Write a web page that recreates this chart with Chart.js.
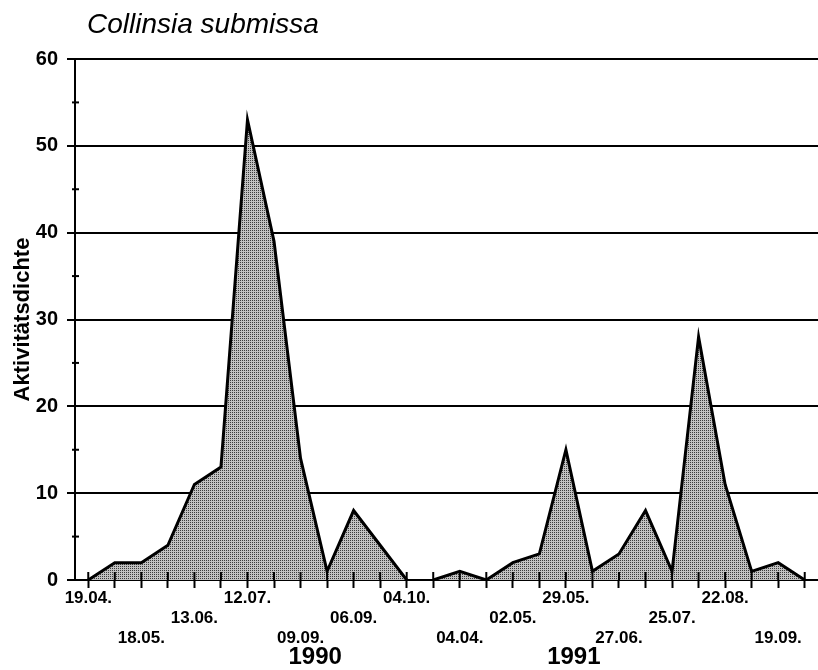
<!DOCTYPE html>
<html>
<head>
<meta charset="utf-8">
<title>Collinsia submissa</title>
<script src="https://cdn.jsdelivr.net/npm/chart.js@4/dist/chart.umd.min.js"></script>
<style>
  body { margin: 0; background: #fff; }
  canvas { display: block; }
</style>
</head>
<body>
<canvas id="activityChart" width="818" height="670"></canvas>
<script>
// Sampling dates (only every second tick is labelled)
const dateLabels = [
  "19.04.", "", "18.05.", "", "13.06.", "", "12.07.", "", "09.09.", "", "06.09.", "", "04.10.",
  "", "04.04.", "", "02.05.", "", "29.05.", "", "27.06.", "", "25.07.", "", "22.08.", "", "19.09.", ""
];
const values1990 = [0, 2, 2, 4, 11, 13, 53, 39, 14, 1, 8, 4, 0];
const values1991 = [0, 1, 0, 2, 3, 15, 1, 3, 8, 1, 28, 11, 1, 2, 0];
const yearLabels = ["1990", "1991"];
const yTicks = [0, 10, 20, 30, 40, 50, 60];

const FONT = "'Liberation Sans', Arial, sans-serif";

// stipple fill like the printed original
function stipple() {
  const c = document.createElement("canvas");
  c.width = 2; c.height = 2;
  const g = c.getContext("2d");
  g.fillStyle = "#c2c2c2";
  g.fillRect(0, 0, 2, 2);
  g.fillStyle = "#3c3c3c";
  g.fillRect(0, 0, 1, 1);
  return g.createPattern(c, "repeat");
}
const pattern = stipple();

const series1990 = values1990.concat(values1991.map(() => null));
const series1991 = values1990.map(() => null).concat(values1991);

// row of each printed date (labels are staggered on three rows)
const rowOf = {};
let k = 0;
dateLabels.forEach((d, i) => {
  if (d) { rowOf[i] = [0, 2, 1][k % 3]; k++; }
});

const extras = {
  id: "extras",
  afterDatasetsDraw(chart) {
    const { ctx, scales: { x, y }, chartArea } = chart;
    ctx.save();
    ctx.strokeStyle = "#000";
    ctx.lineWidth = 2;
    // x ticks cross the axis line
    dateLabels.forEach((d, i) => {
      const px = x.getPixelForValue(i);
      ctx.beginPath();
      ctx.moveTo(px, chartArea.bottom - 8);
      ctx.lineTo(px, chartArea.bottom);
      ctx.stroke();
    });
    // minor y ticks at the 5s
    for (let v = 5; v < 60; v += 10) {
      const py = y.getPixelForValue(v);
      ctx.beginPath();
      ctx.moveTo(chartArea.left - 3, py);
      ctx.lineTo(chartArea.left + 4, py);
      ctx.stroke();
    }
    ctx.restore();
  },
  afterDraw(chart) {
    const { ctx, scales: { x } } = chart;
    ctx.save();
    ctx.fillStyle = "#000";
    ctx.font = "italic 28px " + FONT;
    ctx.textAlign = "left";
    ctx.textBaseline = "alphabetic";
    ctx.fillText("Collinsia submissa", 87, 33);

    ctx.font = "bold 24px " + FONT;
    ctx.textAlign = "center";
    ctx.textBaseline = "middle";
    ctx.fillText(yearLabels[0], x.getPixelForValue(8.55), 657);
    ctx.fillText(yearLabels[1], x.getPixelForValue(18.3), 657);
    ctx.restore();
  }
};

new Chart(document.getElementById("activityChart"), {
  type: "line",
  data: {
    labels: dateLabels,
    datasets: [
      {
        label: yearLabels[0],
        data: series1990,
        borderColor: "#000",
        borderWidth: 3,
        backgroundColor: pattern,
        fill: "origin",
        pointRadius: 0,
        tension: 0
      },
      {
        label: yearLabels[1],
        data: series1991,
        borderColor: "#000",
        borderWidth: 3,
        backgroundColor: pattern,
        fill: "origin",
        pointRadius: 0,
        tension: 0
      }
    ]
  },
  options: {
    responsive: false,
    animation: false,
    layout: { padding: { top: 59, right: 0, left: 0, bottom: 0 } },
    plugins: {
      legend: { display: false },
      tooltip: { enabled: false },
      title: { display: false }
    },
    scales: {
      x: {
        type: "category",
        offset: true,
        afterFit(scale) { scale.height = 90; },
        grid: {
          offset: false,
          drawOnChartArea: false,
          drawTicks: true,
          tickLength: 8,
          tickColor: "#000",
          tickWidth: 2
        },
        border: { color: "#000", width: 2 },
        ticks: {
          autoSkip: false,
          maxRotation: 0,
          minRotation: 0,
          padding: 0,
          color: "#000",
          font: { family: FONT, size: 17, weight: "bold", lineHeight: 1.18 },
          callback(value, index) {
            const d = dateLabels[index];
            if (!d) return "";
            const lines = ["", "", ""];
            lines[rowOf[index]] = d;
            return lines;
          }
        }
      },
      y: {
        min: 0,
        max: 60,
        afterFit(scale) { scale.width = 75; },
        afterBuildTicks(scale) {
          scale.ticks = yTicks.map(v => ({ value: v }));
        },
        grid: {
          color: "#000",
          lineWidth: 2,
          tickLength: 8,
          tickColor: "#000",
          tickWidth: 2
        },
        border: { color: "#000", width: 2 },
        ticks: {
          padding: 9,
          color: "#000",
          font: { family: FONT, size: 20, weight: "bold" }
        },
        title: {
          display: true,
          text: "Aktivitätsdichte",
          color: "#000",
          padding: { top: 10, bottom: 0 },
          font: { family: FONT, size: 22, weight: "bold" }
        }
      }
    }
  },
  plugins: [extras]
});
</script>
</body>
</html>
